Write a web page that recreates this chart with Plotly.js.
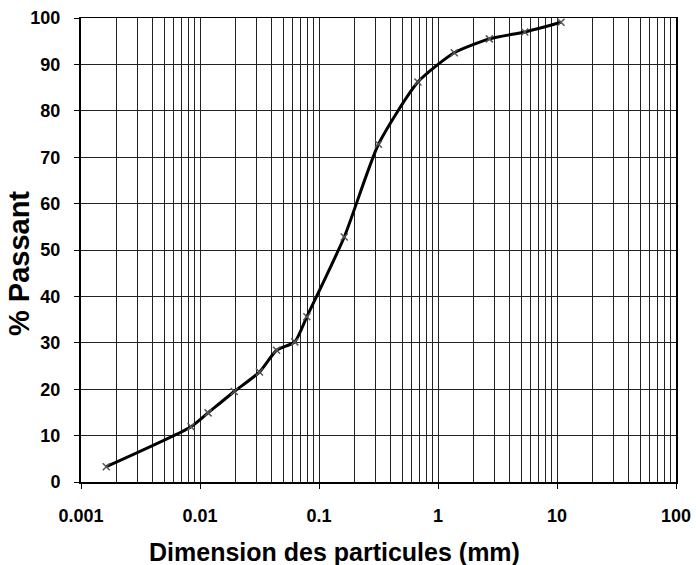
<!DOCTYPE html>
<html>
<head>
<meta charset="utf-8">
<script src="https://cdn.plot.ly/plotly-3.0.1.min.js"></script>
<style>html,body{margin:0;padding:0;background:#fff;}#chart{width:696px;height:565px;}</style>
</head>
<body>
<div id="chart"></div>
<script>
// Dimension des particules (mm)
const diametres = [0.00163, 0.0084, 0.0117, 0.0194, 0.0316, 0.044, 0.0626, 0.079, 0.163, 0.316, 0.678, 1.37, 2.70, 5.36, 10.8];
// % Passant
const passant = [3.3, 11.9, 14.9, 19.5, 23.7, 28.4, 30.2, 35.6, 52.8, 72.8, 86.2, 92.5, 95.5, 97.0, 99.1];
const xTickVals = [0.001, 0.01, 0.1, 1, 10, 100];
const xTickText = ['0.001', '0.01', '0.1', '1', '10', '100'];
const yTickVals = [0, 10, 20, 30, 40, 50, 60, 70, 80, 90, 100];
const xTitle = 'Dimension des particules (mm)';
const yTitle = '% Passant';

const FONT = '"Liberation Sans", Arial, sans-serif';

const trace = {
  x: diametres,
  y: passant,
  type: 'scatter',
  mode: 'lines+markers',
  line: {color: '#000', width: 3, shape: 'spline', smoothing: 0.6},
  marker: {symbol: 'x-thin-open', size: 7, color: '#555', line: {color: '#555', width: 1.5}},
  hoverinfo: 'x+y'
};

const layout = {
  width: 696, height: 565,
  margin: {l: 81, r: 20, t: 18, b: 83},
  paper_bgcolor: '#fff', plot_bgcolor: '#fff',
  showlegend: false,
  font: {family: FONT, color: '#000'},
  xaxis: {
    type: 'log',
    range: [-3, 2],
    tickvals: xTickVals,
    ticktext: xTickText,
    ticks: 'outside', ticklen: 5, tickcolor: '#000', tickwidth: 1,
    ticklabelstandoff: 12,
    tickfont: {size: 18, family: FONT, weight: 'bold'},
    showgrid: true, gridcolor: '#222', gridwidth: 1,
    minor: {dtick: 'D1', showgrid: true, gridcolor: '#222', gridwidth: 1, ticks: ''},
    showline: true, linecolor: '#000', linewidth: 1.5, mirror: true,
    zeroline: false
  },
  yaxis: {
    range: [0, 100],
    tickvals: yTickVals,
    ticks: 'outside', ticklen: 5, tickcolor: '#000', tickwidth: 1,
    ticklabelstandoff: 10,
    tickfont: {size: 18, family: FONT, weight: 'bold'},
    showgrid: true, gridcolor: '#222', gridwidth: 1,
    showline: true, linecolor: '#000', linewidth: 2, mirror: true,
    zeroline: false
  },
  annotations: [
    {text: xTitle, xref: 'paper', yref: 'paper', x: 0.426, y: -0.15,
     xanchor: 'center', yanchor: 'middle', showarrow: false,
     font: {size: 25, family: FONT, weight: 'bold', color: '#000'}},
    {text: yTitle, xref: 'paper', yref: 'paper', x: -0.104, y: 0.47,
     xanchor: 'center', yanchor: 'middle', showarrow: false, textangle: -90,
     font: {size: 29, family: FONT, weight: 'bold', color: '#000'}}
  ]
};

Plotly.newPlot('chart', [trace], layout, {displayModeBar: false, staticPlot: true});
</script>
</body>
</html>
